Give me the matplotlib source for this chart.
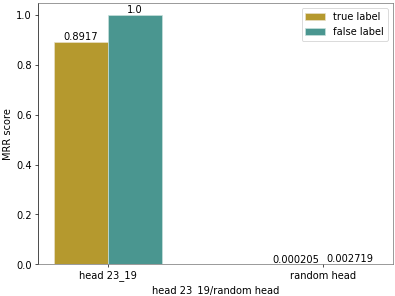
import numpy as np
import matplotlib.pyplot as plt

heads = ["head 23_19", "random head"]
true_scores = [0.8917, 0.000205]
false_scores = [1.0, 0.002719]
true_text = ["0.8917", "0.000205"]
false_text = ["1.0", "0.002719"]

plt.rcParams["font.size"] = 11.6

x = np.arange(len(heads))
width = 0.25

fig, ax = plt.subplots(figsize=(6.4, 4.8), dpi=395 / 6.4)
b1 = ax.bar(x - width / 2, true_scores, width, label="true label",
            color="#b5992e", edgecolor="#e8e0c8", linewidth=0.8)
b2 = ax.bar(x + width / 2, false_scores, width, label="false label",
            color="#4a9690", edgecolor="#c8e0dc", linewidth=0.8)
ax.bar_label(b1, labels=true_text)
ax.bar_label(b2, labels=false_text)

ax.set_xticks(x)
ax.set_xticklabels(heads)
ax.set_xlabel("head 23_19/random head")
ax.set_ylabel("MRR score")
ax.legend(loc="upper right")

for side in ["top", "right", "bottom"]:
    ax.spines[side].set_color("#707070")
ax.spines["left"].set_color("black")

plt.subplots_adjust(left=0.096, right=0.995, top=0.99, bottom=0.107)
plt.savefig("out.png")
